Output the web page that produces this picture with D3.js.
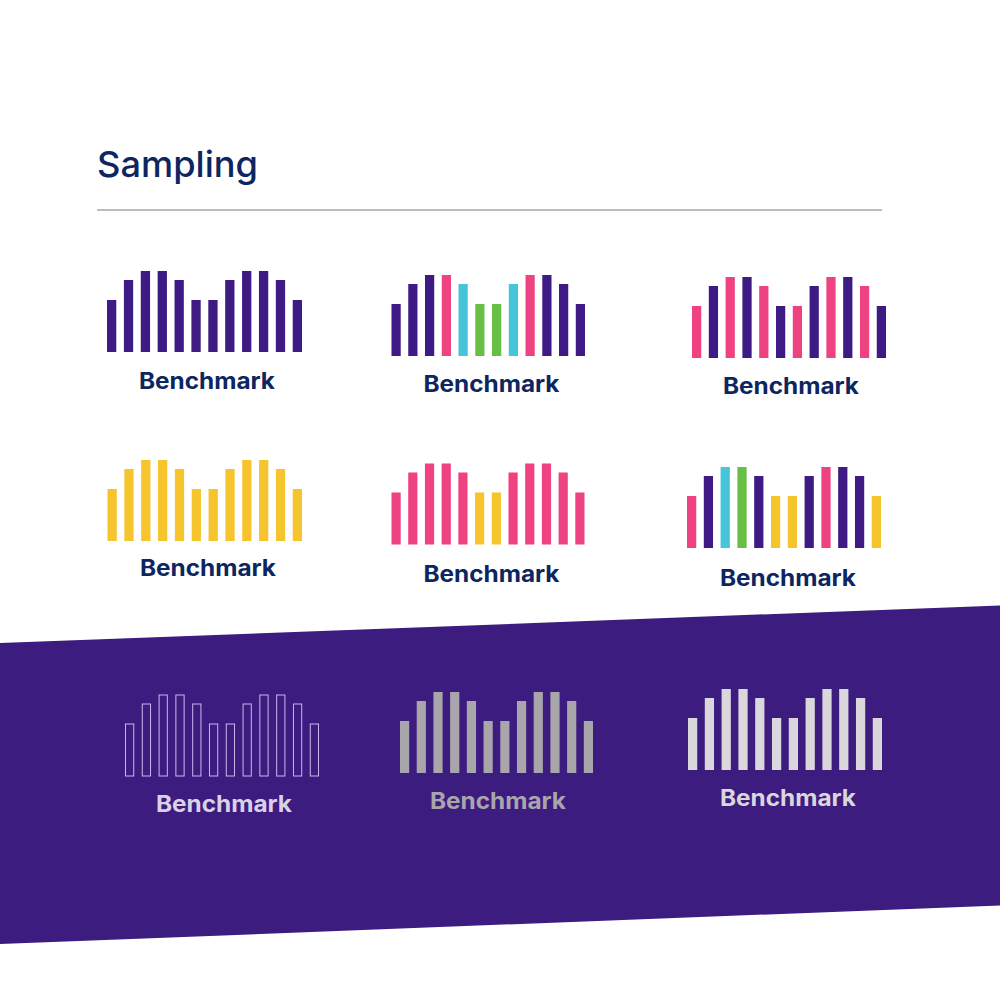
<!DOCTYPE html>
<html>
<head>
<meta charset="utf-8">
<script src="https://cdn.jsdelivr.net/npm/d3@7"></script>
<style>
  html, body { margin: 0; padding: 0; background: #ffffff; }
  svg { display: block; }
</style>
</head>
<body>
<svg id="chart" width="1000" height="1000"></svg>
<script>
// ---- data ----
const titleText = "Sampling";
const wordmark = "Benchmark";
const barValues = [52, 72, 81, 81, 72, 52, 52, 72, 81, 81, 72, 52];
const barIndex = d3.range(barValues.length);

// colour keys per logo (one per bar)
const colorsLogo1 = ["P","P","P","P","P","P","P","P","P","P","P","P"];
const colorsLogo2 = ["P","P","P","K","C","G","G","C","K","P","P","P"];
const colorsLogo3 = ["K","P","K","P","K","P","K","P","K","P","K","P"];
const colorsLogo4 = ["Y","Y","Y","Y","Y","Y","Y","Y","Y","Y","Y","Y"];
const colorsLogo5 = ["K","K","K","K","K","Y","Y","K","K","K","K","K"];
const colorsLogo6 = ["K","P","C","G","P","Y","Y","P","K","P","P","Y"];
const colorsLogo7 = ["O","O","O","O","O","O","O","O","O","O","O","O"];
const colorsLogo8 = ["M","M","M","M","M","M","M","M","M","M","M","M"];
const colorsLogo9 = ["L","L","L","L","L","L","L","L","L","L","L","L"];

// ---- styles ----
const palette = {
  P: "#3d1a84", K: "#ee4281", C: "#46c4da", G: "#68bf45", Y: "#f6c42c",
  O: "none", M: "#a8a6ab", L: "#d9d7dc"
};
const bandColor = "#3d1c80";
const navy = "#0d2660";

// ---- layout (positions) ----
const logos = [
  { colors: colorsLogo1, x0: 107,   x1: 302,   bottom: 352,   tx: 207,   ty: 389, text: navy },
  { colors: colorsLogo2, x0: 391.5, x1: 585,   bottom: 356,   tx: 491.5, ty: 392, text: navy },
  { colors: colorsLogo3, x0: 692,   x1: 886,   bottom: 358,   tx: 791,   ty: 394, text: navy },
  { colors: colorsLogo4, x0: 107.5, x1: 302,   bottom: 541,   tx: 208,   ty: 576, text: navy },
  { colors: colorsLogo5, x0: 391.5, x1: 584.5, bottom: 544.5, tx: 491.5, ty: 582, text: navy },
  { colors: colorsLogo6, x0: 687,   x1: 881,   bottom: 548,   tx: 788,   ty: 586, text: navy },
  { colors: colorsLogo7, x0: 125,   x1: 319,   bottom: 776,   tx: 224,   ty: 812, text: "#d9d2e6", outline: "#c8b8ec" },
  { colors: colorsLogo8, x0: 400,   x1: 593,   bottom: 773,   tx: 498,   ty: 809, text: "#a8a6ab" },
  { colors: colorsLogo9, x0: 688,   x1: 882,   bottom: 770,   tx: 788,   ty: 806, text: "#d9d7dc" }
];

const svg = d3.select("#chart");

// background band
svg.append("path")
  .attr("d", "M0,643 L1000,605.5 L1000,905.5 L0,944 Z")
  .attr("fill", bandColor);

// title
svg.append("text")
  .attr("x", 97).attr("y", 177)
  .attr("font-family", "Inter, 'Open Sans', sans-serif")
  .attr("font-weight", 500)
  .attr("font-size", 36)
  .attr("fill", navy)
  .attr("textLength", 161)
  .attr("lengthAdjust", "spacingAndGlyphs")
  .text(titleText);

svg.append("line")
  .attr("x1", 97).attr("x2", 882)
  .attr("y1", 210).attr("y2", 210)
  .attr("stroke", "#bdbdbd").attr("stroke-width", 2);

const yMax = d3.max(barValues);

logos.forEach(L => {
  const x = d3.scaleBand().domain(barIndex).range([L.x0, L.x1])
    .paddingInner(0.45).paddingOuter(0);
  const y = d3.scaleLinear().domain([0, yMax]).range([L.bottom, L.bottom - 81]);
  const g = svg.append("g");
  g.selectAll("rect").data(barIndex).join("rect")
    .attr("x", i => L.outline ? x(i) + 0.5 : x(i))
    .attr("y", i => y(barValues[i]))
    .attr("width", L.outline ? x.bandwidth() - 1 : x.bandwidth())
    .attr("height", i => y(0) - y(barValues[i]))
    .attr("fill", i => palette[L.colors[i]])
    .attr("stroke", L.outline ? L.outline : "none")
    .attr("stroke-width", L.outline ? 1 : 0);
  g.append("text")
    .attr("x", L.tx).attr("y", L.ty)
    .attr("text-anchor", "middle")
    .attr("font-family", "Inter, 'Open Sans', sans-serif")
    .attr("font-weight", 700)
    .attr("font-size", 22.5)
    .attr("fill", L.text)
    .attr("textLength", 136)
    .attr("lengthAdjust", "spacingAndGlyphs")
    .text(wordmark);
});
</script>
</body>
</html>
